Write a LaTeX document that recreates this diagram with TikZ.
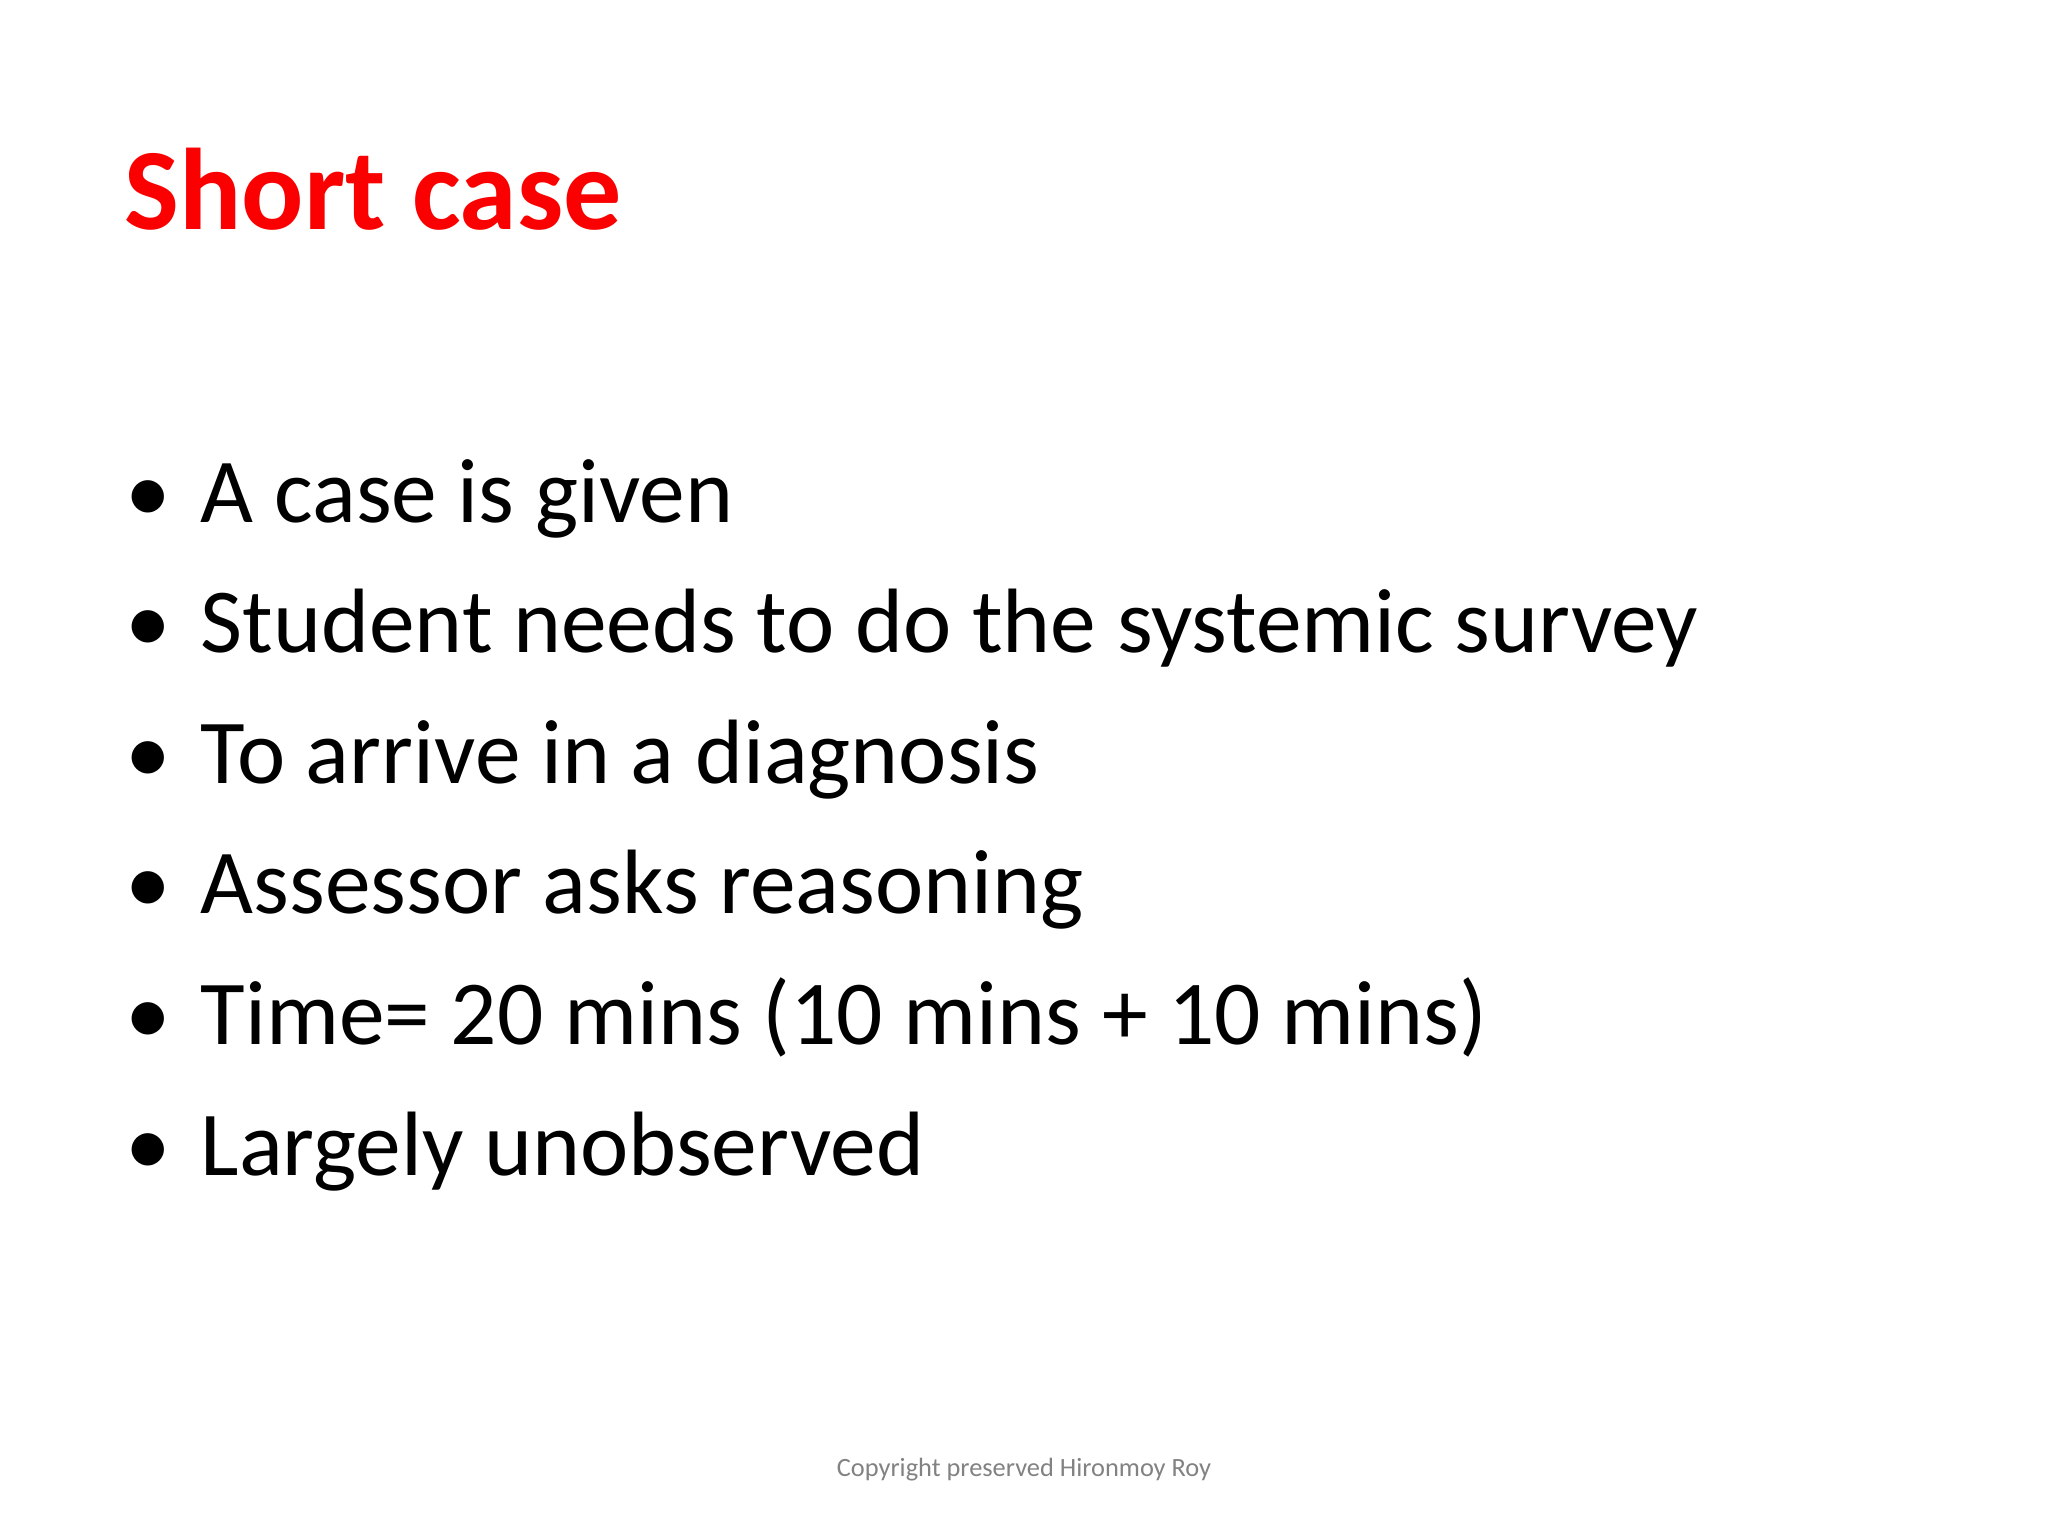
\documentclass[tikz,border=0pt]{standalone}
\usepackage{fontspec}
\setmainfont{Carlito}
\definecolor{titlered}{RGB}{250,0,0}
\definecolor{footgray}{RGB}{130,130,130}
\begin{document}
\begin{tikzpicture}[x=0.01cm,y=-0.01cm,
  bul/.style={anchor=base west,inner sep=0pt,font=\fontsize{26}{30}\selectfont},
  item/.style={anchor=base west,inner sep=0pt,font=\fontsize{26}{30}\selectfont}]
\useasboundingbox[fill=white] (0,0) rectangle (2048,1536);
\node[anchor=base west,inner sep=0pt,text=titlered,font=\fontsize{33}{38}\selectfont\bfseries] (title) at (124,229) {Short case};
\foreach \t [count=\i] in {A case is given,Student needs to do the systemic survey,To arrive in a diagnosis,Assessor asks reasoning,Time= 20 mins (10 mins + 10 mins),Largely unobserved}{
  \node[bul] (b\i) at (125,{522+130.6*(\i-1)}) {•};
  \node[item] (t\i) at (200,{522+130.6*(\i-1)}) {\t};
}
\node[anchor=base,inner sep=0pt,text=footgray,font=\fontsize{7.5}{9}\selectfont] (foot) at (1024,1476) {Copyright preserved Hironmoy Roy};
\end{tikzpicture}
\end{document}
